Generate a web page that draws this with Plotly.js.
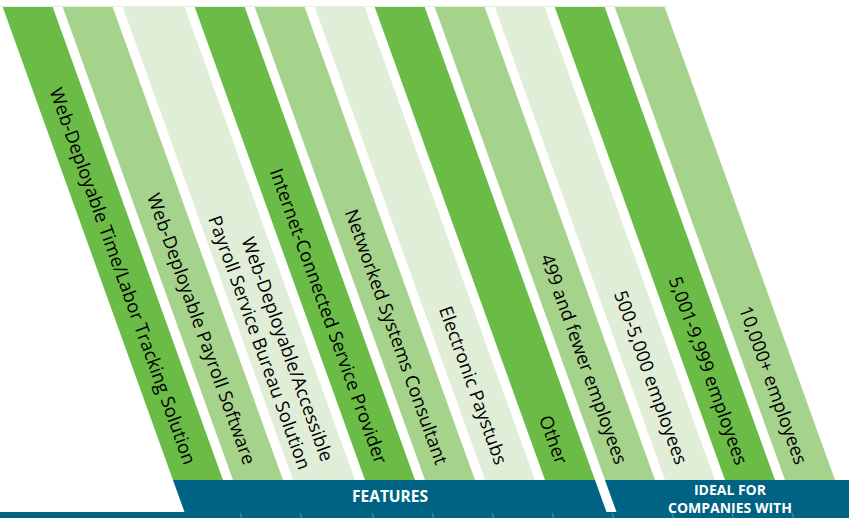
<!DOCTYPE html>
<html>
<head>
<meta charset="utf-8">
<script src="https://cdn.plot.ly/plotly-3.0.1.min.js"></script>
<style>html,body{margin:0;padding:0;background:#fff;}#chart{width:849px;height:518px;}</style>
</head>
<body>
<div id="chart"></div>
<script>
// ---- data ----
var labels = [
  "Web-Deployable Time/Labor Tracking Solution",
  "Web-Deployable Payroll Software",
  "Web-Deployable/Accessible<br>Payroll Service Bureau Solution",
  "Internet-Connected Service Provider",
  "Networked Systems Consultant",
  "Electronic Paystubs",
  "Other",
  "499 and fewer employees",
  "500-5,000 employees",
  "5,001-9,999 employees",
  "10,000+ employees"
];
var groupNames = ["FEATURES", "IDEAL FOR<br>COMPANIES WITH"];
var groupCounts = [7, 4];

// ---- styling / geometry ----
var W = 849, H = 518;
var TOP = 7, BOT = 480, BAND_BOT = 512;
var SLOPE = 0.36;          // horizontal shift per vertical pixel
var X0 = 2.7, BASE_W = 50, EXTRA_LINE_W = 12, GAP = 10;
var shades = ["#6BBC46", "#A6D38C", "#E1EED7"];
var navy = "#006383";
var FONT = "Open Sans, Noto Sans, sans-serif";
var FS = 18.5;

function shift(y) { return SLOPE * (y - TOP); }

var stripes = [];
var x = X0;
labels.forEach(function (lab, i) {
  var lines = lab.split("<br>").length;
  var w = BASE_W + EXTRA_LINE_W * (lines - 1);
  stripes.push({L: x, R: x + w, lines: lines, label: lab, color: shades[i % 3]});
  x += w + GAP;
});

var traces = [];
function poly(xs, ys, color) {
  traces.push({
    type: "scatter", mode: "lines", x: xs, y: ys, fill: "toself",
    fillcolor: color, line: {width: 0, color: color}, hoverinfo: "skip", showlegend: false
  });
}

// faint top rule
traces.push({type: "scatter", mode: "lines", x: [0, stripes[stripes.length - 1].R + 4], y: [TOP - 0.5, TOP - 0.5],
  line: {color: "#E3F0DA", width: 1}, hoverinfo: "skip", showlegend: false});

// stripes
stripes.forEach(function (s) {
  poly([s.L, s.R, s.R + shift(BOT), s.L + shift(BOT), s.L],
       [TOP, TOP, BOT, BOT, TOP], s.color);
});

// navy group bands
var annotations = [];
var idx = 0;
groupCounts.forEach(function (cnt, g) {
  var first = stripes[idx], last = stripes[idx + cnt - 1];
  var xl1 = first.L + shift(BOT);
  var xl2 = first.L + shift(BAND_BOT);
  var isLast = (g === groupCounts.length - 1);
  var xr1 = isLast ? W : last.R + shift(BOT);
  var xr2 = isLast ? W : last.R + shift(BAND_BOT);
  poly([xl1, xr1, xr2, xl2, xl1], [BOT, BOT, BAND_BOT, BAND_BOT, BOT], navy);
  var cx = (xl1 + xl2 + xr1 + xr2) / 4;
  var multi = groupNames[g].indexOf("<br>") >= 0;
  annotations.push({
    x: cx, y: (BOT + BAND_BOT) / 2 + (multi ? 2.5 : 0), xref: "x", yref: "y",
    text: "<b>" + groupNames[g] + "</b>", showarrow: false,
    xanchor: "center", yanchor: "middle", align: "center", borderpad: 0,
    font: {family: FONT, size: multi ? 14 : 15.5, color: "#ffffff"}
  });
  idx += cnt;
});

// bottom strip
poly([0, W, W, 0, 0], [BAND_BOT, BAND_BOT, H, H, BAND_BOT], navy);

// faint gap marks in bottom strip
for (var i = 0; i < stripes.length - 1; i++) {
  var gx = (stripes[i].R + stripes[i + 1].L) / 2;
  traces.push({type: "scatter", mode: "lines",
    x: [gx + shift(BAND_BOT + 1), gx + shift(H)], y: [BAND_BOT + 1, H],
    line: {color: "rgba(255,255,255,0.25)", width: 1.2}, hoverinfo: "skip", showlegend: false});
}

// stripe labels (anchored at their lower end)
var ang = Math.atan2(1, SLOPE) * 180 / Math.PI;
var th = ang * Math.PI / 180;
var Y_END = 466;
stripes.forEach(function (s) {
  var h = s.lines * FS * 1.3 + 2;
  var xc = (s.L + s.R) / 2 + shift(Y_END);
  annotations.push({
    x: xc + (h / 2) * Math.sin(th), y: Y_END + (h / 2) * Math.cos(th),
    xref: "x", yref: "y", text: s.label, showarrow: false,
    textangle: ang, xanchor: "right", yanchor: "bottom", align: "right",
    font: {family: FONT, size: FS, color: "#000000"}
  });
});

var layout = {
  width: W, height: H, margin: {l: 0, r: 0, t: 0, b: 0},
  paper_bgcolor: "#ffffff", plot_bgcolor: "#ffffff",
  xaxis: {range: [0, W], visible: false, fixedrange: true},
  yaxis: {range: [H, 0], visible: false, fixedrange: true},
  showlegend: false, annotations: annotations
};
Plotly.newPlot("chart", traces, layout, {displayModeBar: false, staticPlot: true});
</script>
</body>
</html>
